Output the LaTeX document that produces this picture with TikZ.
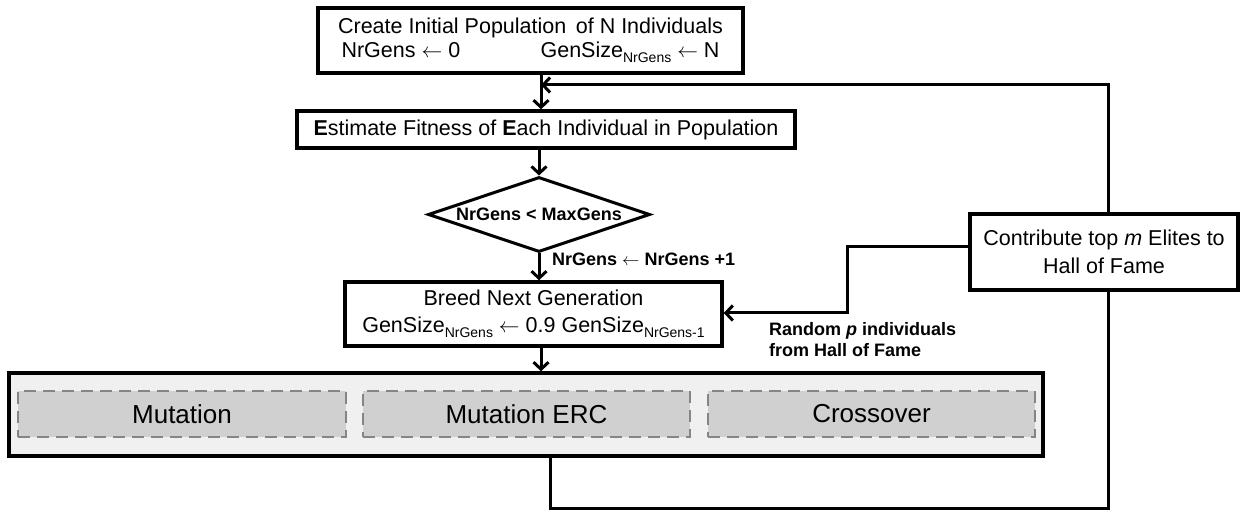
\documentclass[tikz,border=0pt]{standalone}
\usepackage{fontspec}
\setmainfont{Liberation Sans}
\usetikzlibrary{arrows.meta,shapes.geometric}
\definecolor{panel}{HTML}{F0F0F0}
\definecolor{opfill}{HTML}{D0D0D0}
\definecolor{opline}{HTML}{858585}
\newcommand{\mysub}[1]{\raisebox{-0.22em}{\fontsize{14}{14}\selectfont #1}}
\newcommand{\fsA}{\fontsize{21.5}{25}\selectfont}
\newcommand{\fsB}{\fontsize{18}{21}\selectfont\bfseries}
\begin{document}
\begin{tikzpicture}[x=1pt,y=-1pt,
  box/.style={draw,line width=3.5pt,fill=white,inner sep=0pt,align=center,font=\fsA},
  opbox/.style={draw=opline,fill=opfill,line width=2.5pt,dash pattern=on 12pt off 7pt,inner sep=0pt,minimum height=46pt,minimum width=327pt,font=\fontsize{26}{30}\selectfont},
  arr/.style={line width=3pt,-{Straight Barb[length=7pt,width=15pt,line width=3pt]}},
  conn/.style={line width=3pt},
  lbl/.style={font=\fsB,inner sep=0pt}
]
\useasboundingbox (0,0) rectangle (1241,510);
\coordinate (ax) at (541,0);
\coordinate (fb) at (1108,85);
\coordinate (lo) at (550,508);
\coordinate (hz) at (847,247);
\coordinate (rp) at (847,313);

\node[box,minimum width=425pt,minimum height=65pt] (top) at (530.5,40.5)
  {Create Initial Population\, of N Individuals\\[-1pt]
   \makebox[378pt]{NrGens $\leftarrow$ 0\hfill GenSize\mysub{NrGens} $\leftarrow$ N}};
\node[box,minimum width=498pt,minimum height=37pt] (est) at (546,129.5)
  {\textbf{E}stimate Fitness of \textbf{E}ach Individual in Population};
\node[diamond,draw,line width=3pt,fill=white,inner sep=0pt,minimum width=222pt,minimum height=75pt] (dec) at (539,214.5) {};
\node[lbl] (dect) at (dec.center) {NrGens < MaxGens};
\node[box,minimum width=377pt,minimum height=64pt] (breed) at (533.5,314)
  {Breed Next Generation\\[2pt]
   GenSize\mysub{NrGens} $\leftarrow$ 0.9 GenSize\mysub{NrGens-1}};
\node[draw,line width=3.5pt,fill=panel,minimum width=1034pt,minimum height=83pt,inner sep=0pt] (big) at (526,414.5) {};
\node[opbox,minimum width=328pt] (mut) at (182,414) {Mutation};
\node[opbox] (erc) at (526.5,414) {Mutation ERC};
\node[opbox] (cross) at (871.5,414) {Crossover};
\node[box,minimum width=268pt,minimum height=76pt] (contrib) at (1104,252)
  {Contribute top \textit{m} Elites to\\[3pt] Hall of Fame};

\node[lbl,anchor=west] (inc) at (552,259) {NrGens $\leftarrow$ NrGens +1};
\node[lbl,anchor=north west,align=left] (rnd) at (769,322) {Random \textit{p} individuals\\ from Hall of Fame};

\draw[arr] (top.south -| ax) -- (est.north -| ax);
\draw[arr] (contrib.north -| fb) -- (fb) -- (fb -| ax);
\draw[arr] (est.south -| dec.north) -- (dec.north);
\draw[arr] (dec.south) -- (breed.north -| dec.south);
\draw[arr] (breed.south -| ax) -- (big.north -| ax);
\draw[conn] (big.south -| lo) -- (lo) -- (lo -| fb) -- (contrib.south -| fb);
\draw[arr] (contrib.west |- hz) -- (hz) -- (rp) -- (breed.east |- rp);
\end{tikzpicture}
\end{document}
